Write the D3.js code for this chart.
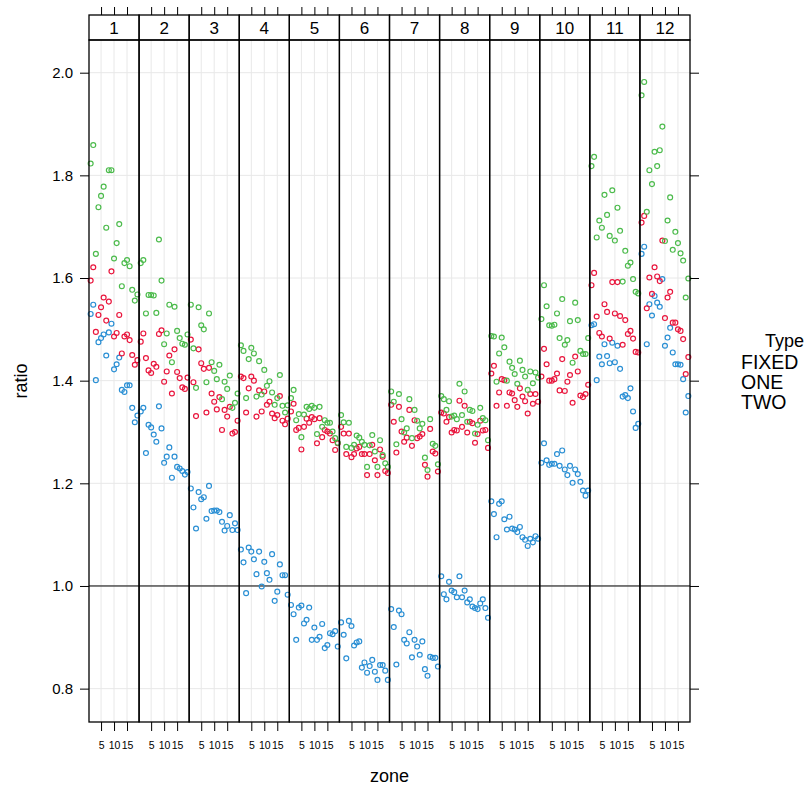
<!DOCTYPE html>
<html>
<head>
<meta charset="utf-8">
<script src="https://cdn.jsdelivr.net/npm/d3@7"></script>
<style>
  html, body { margin: 0; padding: 0; background: #fff; }
  svg { display: block; font-family: "Liberation Sans", Arial, Helvetica, sans-serif; }
</style>
</head>
<body>
<script>
// Conditioning levels (month), x values (zone) and tick values
const months = ["1", "2", "3", "4", "5", "6", "7", "8", "9", "10", "11", "12"];
const zones = [1, 2, 3, 4, 5, 6, 7, 8, 9, 10, 11, 12, 13, 14, 15, 16, 17, 18, 19];
const types = ["FIXED", "ONE", "TWO"];
const yTicks = [0.8, 1.0, 1.2, 1.4, 1.6, 1.8, 2.0];
const xTicks = [5, 10, 15];
const typeColors = ["#2a8fd4", "#e9163d", "#4cbb4c"];

// ratio by month (rows) and zone (columns), one array per Type
const fixedRatio = [
  [1.530,1.548,1.401,1.475,1.483,1.490,1.449,1.494,1.511,1.422,1.432,1.445,1.382,1.378,1.391,1.391,1.347,1.319,1.332],
  [1.340,1.347,1.259,1.314,1.309,1.295,1.281,1.350,1.307,1.240,1.252,1.270,1.211,1.252,1.232,1.229,1.224,1.217,1.222],
  [1.190,1.153,1.112,1.183,1.169,1.173,1.131,1.195,1.146,1.147,1.147,1.144,1.125,1.108,1.117,1.138,1.109,1.122,1.109],
  [1.071,1.046,0.986,1.075,1.067,1.052,1.023,1.067,0.999,1.047,1.025,1.012,1.062,0.971,0.989,1.042,1.021,1.021,0.983],
  [0.963,0.945,0.895,0.958,0.962,0.927,0.934,0.958,0.895,0.919,0.895,0.901,0.926,0.879,0.885,0.908,0.906,0.912,0.882],
  [0.929,0.905,0.859,0.932,0.922,0.884,0.890,0.892,0.841,0.851,0.831,0.844,0.856,0.833,0.817,0.846,0.846,0.835,0.817],
  [0.955,0.920,0.847,0.952,0.945,0.895,0.888,0.910,0.861,0.895,0.882,0.866,0.892,0.838,0.825,0.862,0.860,0.860,0.843],
  [1.019,0.984,0.974,1.008,0.991,0.988,0.978,1.019,0.978,0.991,0.968,0.974,0.960,0.957,0.955,0.966,0.974,0.957,0.938],
  [1.165,1.140,1.095,1.160,1.165,1.130,1.110,1.135,1.112,1.110,1.105,1.115,1.095,1.090,1.078,1.092,1.085,1.097,1.092],
  [1.240,1.278,1.245,1.236,1.238,1.238,1.257,1.234,1.264,1.227,1.216,1.234,1.201,1.227,1.218,1.203,1.186,1.176,1.186],
  [1.508,1.510,1.401,1.447,1.432,1.471,1.448,1.434,1.474,1.436,1.468,1.423,1.369,1.372,1.366,1.385,1.340,1.308,1.316],
  [1.647,1.661,1.471,1.549,1.527,1.565,1.552,1.544,1.598,1.468,1.484,1.503,1.455,1.432,1.432,1.431,1.403,1.338,1.370]
];
const oneRatio = [
  [1.595,1.621,1.495,1.528,1.543,1.562,1.517,1.554,1.613,1.486,1.493,1.528,1.453,1.486,1.490,1.479,1.450,1.431,1.440],
  [1.476,1.492,1.444,1.420,1.415,1.433,1.427,1.491,1.498,1.398,1.418,1.449,1.375,1.461,1.417,1.405,1.387,1.384,1.406],
  [1.480,1.397,1.331,1.461,1.434,1.423,1.338,1.425,1.375,1.359,1.344,1.368,1.304,1.343,1.330,1.349,1.297,1.300,1.322],
  [1.408,1.405,1.338,1.385,1.408,1.400,1.330,1.381,1.340,1.379,1.353,1.359,1.336,1.327,1.333,1.370,1.322,1.315,1.326],
  [1.340,1.355,1.304,1.308,1.266,1.310,1.326,1.318,1.329,1.325,1.278,1.327,1.290,1.304,1.301,1.297,1.284,1.265,1.278],
  [1.310,1.297,1.257,1.297,1.251,1.257,1.268,1.271,1.257,1.257,1.216,1.257,1.275,1.245,1.216,1.266,1.252,1.224,1.220],
  [1.353,1.320,1.260,1.349,1.301,1.281,1.289,1.343,1.273,1.323,1.288,1.291,1.296,1.236,1.213,1.306,1.262,1.258,1.223],
  [1.338,1.336,1.320,1.329,1.299,1.304,1.303,1.361,1.310,1.351,1.299,1.320,1.317,1.279,1.296,1.322,1.303,1.304,1.269],
  [1.414,1.429,1.351,1.377,1.403,1.401,1.351,1.377,1.375,1.362,1.349,1.385,1.369,1.360,1.336,1.374,1.355,1.374,1.359],
  [1.408,1.462,1.432,1.400,1.400,1.403,1.414,1.381,1.442,1.380,1.398,1.411,1.357,1.447,1.418,1.371,1.368,1.374,1.392],
  [1.586,1.610,1.525,1.493,1.486,1.549,1.534,1.482,1.592,1.531,1.592,1.526,1.470,1.518,1.491,1.497,1.482,1.456,1.455],
  [1.708,1.721,1.541,1.601,1.569,1.621,1.603,1.594,1.673,1.522,1.562,1.573,1.513,1.513,1.500,1.497,1.481,1.413,1.446]
];
const twoRatio = [
  [1.823,1.859,1.647,1.738,1.760,1.778,1.698,1.810,1.810,1.638,1.668,1.705,1.584,1.629,1.635,1.623,1.577,1.556,1.568],
  [1.629,1.635,1.531,1.567,1.567,1.566,1.532,1.675,1.595,1.471,1.492,1.548,1.436,1.544,1.497,1.483,1.472,1.470,1.490],
  [1.548,1.463,1.386,1.543,1.508,1.500,1.397,1.531,1.436,1.419,1.403,1.431,1.364,1.398,1.384,1.410,1.347,1.357,1.375],
  [1.469,1.458,1.366,1.442,1.464,1.453,1.369,1.438,1.373,1.421,1.390,1.399,1.377,1.353,1.366,1.411,1.351,1.338,1.352],
  [1.366,1.382,1.323,1.335,1.290,1.334,1.349,1.345,1.351,1.347,1.296,1.349,1.310,1.323,1.318,1.318,1.301,1.288,1.279],
  [1.333,1.319,1.271,1.318,1.269,1.275,1.293,1.289,1.281,1.275,1.232,1.274,1.294,1.262,1.232,1.284,1.255,1.239,1.232],
  [1.379,1.359,1.276,1.374,1.325,1.299,1.307,1.364,1.288,1.343,1.322,1.307,1.316,1.250,1.226,1.325,1.277,1.273,1.237],
  [1.370,1.364,1.343,1.360,1.330,1.332,1.325,1.394,1.333,1.379,1.320,1.343,1.341,1.297,1.314,1.347,1.327,1.323,1.284],
  [1.487,1.486,1.398,1.453,1.484,1.465,1.400,1.437,1.425,1.413,1.394,1.439,1.421,1.408,1.382,1.418,1.395,1.416,1.406],
  [1.520,1.586,1.545,1.508,1.507,1.509,1.531,1.483,1.559,1.470,1.479,1.516,1.435,1.552,1.518,1.458,1.452,1.452,1.483],
  [1.818,1.836,1.679,1.712,1.698,1.762,1.723,1.682,1.771,1.673,1.737,1.692,1.593,1.653,1.624,1.630,1.598,1.573,1.570],
  [1.956,1.982,1.729,1.810,1.783,1.846,1.818,1.849,1.895,1.672,1.712,1.757,1.655,1.690,1.668,1.648,1.634,1.562,1.599]
];
const ratioByType = [fixedRatio, oneRatio, twoRatio];

// Long table: one row per point
const rows = [];
types.forEach((t, ti) => {
  months.forEach((m, mi) => {
    zones.forEach((z, zi) => {
      rows.push({ type: t, ti: ti, month: m, zone: z, ratio: ratioByType[ti][mi][zi] });
    });
  });
});

const W = 808, H = 787;
const plotL = 89, plotR = 690, plotT = 40, plotB = 722, stripT = 15;

const svg = d3.select("body").append("svg").attr("width", W).attr("height", H);
svg.append("rect").attr("width", W).attr("height", H).attr("fill", "#fff");

const panel = d3.scaleBand().domain(months).range([plotL, plotR]).padding(0);
const x = d3.scaleLinear().domain([0.36, 19.64]).range([0, panel.bandwidth()]);
const y = d3.scaleLinear().domain([0.735, 2.0637]).range([plotB, plotT]);
const color = d3.scaleOrdinal().domain(types).range(typeColors);

// background reference grid
const grid = svg.append("g").attr("stroke", "#e8e8e8").attr("stroke-width", 1);
grid.selectAll("line.h").data(yTicks).join("line")
  .attr("x1", plotL).attr("x2", plotR)
  .attr("y1", d => y(d)).attr("y2", d => y(d));
months.forEach(m => {
  grid.append("g").selectAll("line").data(xTicks).join("line")
    .attr("x1", d => panel(m) + x(d)).attr("x2", d => panel(m) + x(d))
    .attr("y1", plotT).attr("y2", plotB);
});

// horizontal line at ratio = 1
svg.append("line")
  .attr("x1", plotL).attr("x2", plotR)
  .attr("y1", y(1)).attr("y2", y(1))
  .attr("stroke", "#000").attr("stroke-width", 1);

// points
const pts = svg.append("g");
pts.selectAll("circle").data(rows).join("circle")
  .attr("cx", d => panel(d.month) + x(d.zone))
  .attr("cy", d => y(d.ratio))
  .attr("r", 2.45)
  .attr("fill", "none")
  .attr("stroke", d => color(d.type))
  .attr("stroke-width", 1.2);

// panel frames and strips
const frames = svg.append("g").attr("fill", "none").attr("stroke", "#000").attr("stroke-width", 1.3);
months.forEach(m => {
  frames.append("rect")
    .attr("x", panel(m)).attr("y", plotT)
    .attr("width", panel.bandwidth()).attr("height", plotB - plotT);
  frames.append("rect")
    .attr("x", panel(m)).attr("y", stripT)
    .attr("width", panel.bandwidth()).attr("height", plotT - stripT);
});
svg.append("g").selectAll("text").data(months).join("text")
  .attr("x", m => panel(m) + panel.bandwidth() / 2)
  .attr("y", (stripT + plotT) / 2)
  .attr("dy", "0.36em")
  .attr("text-anchor", "middle")
  .attr("font-size", 17)
  .attr("fill", "#000")
  .text(m => m);

function styleAxis(g) {
  g.select(".domain").remove();
  g.selectAll(".tick line").attr("stroke", "#000").attr("stroke-width", 1);
  g.selectAll(".tick text").attr("fill", "#000").attr("font-family", null);
}

// y axes: labelled on the left, ticks only on the right
svg.append("g").attr("transform", `translate(${plotL},0)`)
  .call(d3.axisLeft(y).tickValues(yTicks).tickFormat(d3.format(".1f")).tickSize(9).tickPadding(7))
  .call(styleAxis)
  .call(g => g.selectAll(".tick text").attr("font-size", 15));
svg.append("g").attr("transform", `translate(${plotR},0)`)
  .call(d3.axisRight(y).tickValues(yTicks).tickFormat("").tickSize(9))
  .call(styleAxis);

// x axes per panel: ticks above the strip, labelled below
months.forEach(m => {
  const xp = d3.scaleLinear().domain(x.domain()).range([panel(m), panel(m) + panel.bandwidth()]);
  svg.append("g").attr("transform", `translate(0,${stripT})`)
    .call(d3.axisTop(xp).tickValues(xTicks).tickFormat("").tickSize(8))
    .call(styleAxis);
  svg.append("g").attr("transform", `translate(0,${plotB})`)
    .call(d3.axisBottom(xp).tickValues(xTicks).tickSize(9).tickPadding(11))
    .call(styleAxis)
    .call(g => g.selectAll(".tick text").attr("font-size", 10.5));
});

// axis titles
svg.append("text")
  .attr("transform", `translate(21,${(plotT + plotB) / 2}) rotate(-90)`)
  .attr("text-anchor", "middle").attr("dy", "0.36em")
  .attr("font-size", 18).text("ratio");
svg.append("text")
  .attr("x", (plotL + plotR) / 2).attr("y", 776)
  .attr("text-anchor", "middle").attr("dy", "0.36em")
  .attr("font-size", 18).text("zone");

// key
const key = svg.append("g").attr("fill", "#000");
key.append("text").attr("x", 765).attr("y", 347).attr("font-size", 18).text("Type");
key.selectAll("text.item").data(types).join("text")
  .attr("class", "item")
  .attr("x", 741)
  .attr("y", (d, i) => 368.5 + i * 20.2)
  .attr("font-size", 19.5)
  .text(d => d);
</script>
</body>
</html>
